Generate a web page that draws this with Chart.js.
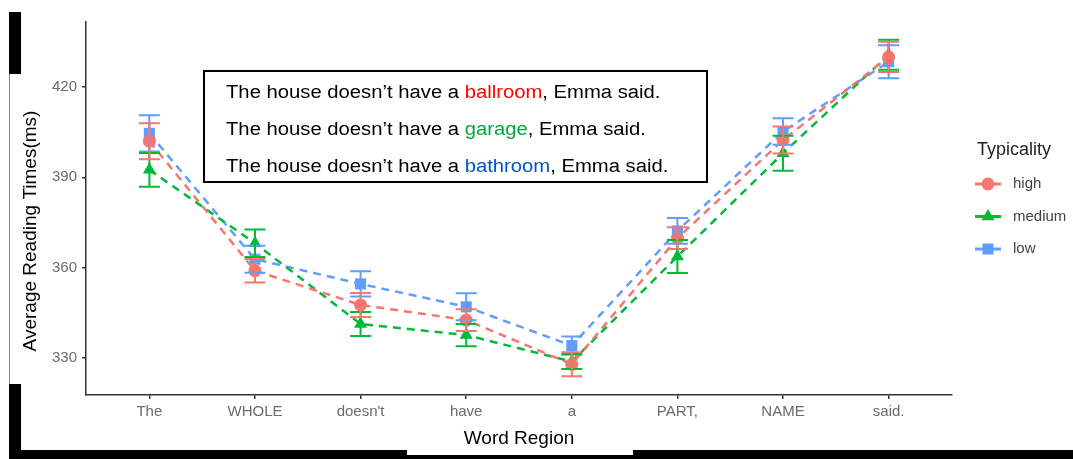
<!DOCTYPE html>
<html>
<head>
<meta charset="utf-8">
<script src="https://cdn.jsdelivr.net/npm/chart.js@4.4.1/dist/chart.umd.min.js"></script>
<style>
  html, body { margin: 0; padding: 0; background: #fff; }
  #wrap { position: relative; width: 1073px; height: 459px; overflow: hidden; background: #fff; }
  #chart { position: absolute; left: 0; top: 0; }
  .blk { position: absolute; background: #000; }
  .thin { position: absolute; background: #888; }
  #sentences {
    position: absolute; left: 203px; top: 70px; width: 505px; height: 113px;
    box-sizing: border-box; border: 2px solid #000; background: #fff;
    font-family: "Liberation Sans", Arial, sans-serif; font-size: 18px; color: #000;
    padding: 2px 0 0 21px; line-height: 37px;
  }
  #sentences div { white-space: nowrap; transform: scaleX(1.125); transform-origin: 0 50%; }
</style>
</head>
<body>
<div id="wrap">
  <canvas id="chart" width="1073" height="459"></canvas>
  <div id="sentences">
    <div>The house doesn’t have a <span style="color:#ff0000">ballroom</span>, Emma said.</div>
    <div>The house doesn’t have a <span style="color:#00a83c">garage</span>, Emma said.</div>
    <div>The house doesn’t have a <span style="color:#0055c6">bathroom</span>, Emma said.</div>
  </div>
  <!-- slide frame edges -->
  <div class="blk" style="left:9px; top:12px; width:12px; height:62px;"></div>
  <div class="thin" style="left:9px; top:74px; width:1px; height:310px;"></div>
  <div class="blk" style="left:9px; top:384px; width:12px; height:75px;"></div>
  <div class="blk" style="left:9px; top:450px; width:398px; height:9px;"></div>
  <div class="blk" style="left:407px; top:455px; width:226px; height:4px;"></div>
  <div class="blk" style="left:633px; top:450px; width:440px; height:9px;"></div>
</div>
<script>
// Word regions along the sentence
const regions = ['The', 'WHOLE', "doesn't", 'have', 'a', 'PART,', 'NAME', 'said.'];

// Mean reading times (ms) per typicality condition
const highMeans   = [402.0, 359.0, 347.6, 342.6, 327.9, 369.8, 402.4, 430.0];
const mediumMeans = [392.5, 368.1, 341.3, 337.6, 328.8, 363.7, 398.0, 430.7];
const lowMeans    = [404.6, 362.8, 354.6, 347.0, 334.1, 372.2, 405.2, 428.4];

// Error bar half-widths (ms)
const highErrors   = [6.0, 3.9, 4.0, 3.6, 4.0, 3.6, 4.5, 5.0];
const mediumErrors = [5.6, 4.6, 4.0, 3.7, 2.5, 5.5, 5.8, 5.0];
const lowErrors    = [6.0, 4.5, 4.2, 4.5, 3.0, 4.3, 4.4, 5.5];

// Y axis tick values
const yTicks = [330, 360, 390, 420];

const seriesNames = ['high', 'medium', 'low'];
const seriesColors = ['#F8766D', '#00BA38', '#619CFF'];
const seriesShapes = ['circle', 'triangle', 'rect'];
const seriesRadius = [6.5, 7.5, 7.8];

const allMeans = [highMeans, mediumMeans, lowMeans];
const allErrors = [highErrors, mediumErrors, lowErrors];

const datasets = allMeans.map((vals, s) => ({
  label: seriesNames[s],
  data: vals.map((v, i) => ({ x: i, y: v })),
  borderColor: seriesColors[s],
  backgroundColor: seriesColors[s],
  borderWidth: 2.5,
  borderDash: [8, 6],
  pointStyle: seriesShapes[s],
  pointRadius: seriesRadius[s],
  pointBorderWidth: 0,
  pointBackgroundColor: seriesColors[s],
  tension: 0,
  fill: false,
  errors: allErrors[s]
}));

const FONT = '"Liberation Sans", Arial, sans-serif';

function drawShape(ctx, shape, x, y, r) {
  ctx.beginPath();
  if (shape === 'circle') {
    ctx.arc(x, y, r, 0, Math.PI * 2);
  } else if (shape === 'triangle') {
    for (let k = 0; k < 3; k++) {
      const a = k * 2 * Math.PI / 3;
      const px = x + Math.sin(a) * r, py = y - Math.cos(a) * r;
      if (k === 0) ctx.moveTo(px, py); else ctx.lineTo(px, py);
    }
    ctx.closePath();
  } else {
    const h = r * Math.SQRT1_2;
    ctx.rect(x - h, y - h, 2 * h, 2 * h);
  }
  ctx.fill();
}

const errorBars = {
  id: 'errorBars',
  afterDatasetsDraw(chart) {
    const { ctx, scales: { x, y } } = chart;
    ctx.save();
    ctx.lineWidth = 2;
    for (let s = chart.data.datasets.length - 1; s >= 0; s--) {
      const ds = chart.data.datasets[s];
      ctx.strokeStyle = ds.borderColor;
      ds.data.forEach((p, i) => {
        const px = x.getPixelForValue(p.x);
        const top = y.getPixelForValue(p.y + ds.errors[i]);
        const bot = y.getPixelForValue(p.y - ds.errors[i]);
        ctx.beginPath();
        ctx.moveTo(px, top); ctx.lineTo(px, bot);
        ctx.moveTo(px - 10.5, top); ctx.lineTo(px + 10.5, top);
        ctx.moveTo(px - 10.5, bot); ctx.lineTo(px + 10.5, bot);
        ctx.stroke();
      });
    }
    ctx.restore();
  }
};

const axisTitlesAndLegend = {
  id: 'axisTitlesAndLegend',
  afterDraw(chart) {
    const { ctx, chartArea } = chart;
    ctx.save();
    // axis titles
    ctx.fillStyle = '#000';
    ctx.font = '19px ' + FONT;
    ctx.textAlign = 'center';
    ctx.textBaseline = 'middle';
    ctx.fillText('Word Region', (chartArea.left + chartArea.right) / 2, 439);
    ctx.save();
    ctx.translate(31, 231);
    ctx.rotate(-Math.PI / 2);
    ctx.fillText('Average Reading Times(ms)', 0, 0);
    ctx.restore();

    // legend
    ctx.textAlign = 'left';
    ctx.fillStyle = '#222';
    ctx.font = '18px ' + FONT;
    ctx.fillText('Typicality', 977, 150);
    const rows = [184, 216.5, 249];
    chart.data.datasets.forEach((ds, s) => {
      const yy = rows[s];
      ctx.strokeStyle = ds.borderColor;
      ctx.fillStyle = ds.borderColor;
      ctx.lineWidth = 3;
      ctx.beginPath();
      ctx.moveTo(975, yy); ctx.lineTo(1001, yy);
      ctx.stroke();
      drawShape(ctx, seriesShapes[s], 988, yy, seriesRadius[s]);
      ctx.fillStyle = '#444';
      ctx.font = '15px ' + FONT;
      ctx.fillText(ds.label, 1013, yy);
    });
    ctx.restore();
  }
};

new Chart(document.getElementById('chart'), {
  type: 'line',
  data: { datasets },
  plugins: [errorBars, axisTitlesAndLegend],
  options: {
    responsive: false,
    animation: false,
    devicePixelRatio: 1,
    layout: { padding: { left: 0, top: 22, right: 121, bottom: 0 } },
    plugins: { legend: { display: false }, tooltip: { enabled: false } },
    scales: {
      x: {
        type: 'linear',
        min: -0.6,
        max: 7.6,
        afterBuildTicks(scale) { scale.ticks = regions.map((_, i) => ({ value: i })); },
        afterFit(scale) { scale.height = 64; },
        ticks: {
          callback: (v) => regions[v],
          color: '#6b6b6b',
          font: { family: FONT, size: 15 },
          padding: 4,
          maxRotation: 0,
          autoSkip: false
        },
        grid: { drawOnChartArea: false, drawTicks: true, tickLength: 4, color: '#333', lineWidth: 1.5 },
        border: { display: true, color: '#333', width: 1.5 }
      },
      y: {
        min: 317.7,
        max: 441.6,
        afterBuildTicks(scale) { scale.ticks = yTicks.map(v => ({ value: v })); },
        afterFit(scale) { scale.width = 86; },
        ticks: {
          color: '#6b6b6b',
          font: { family: FONT, size: 15 },
          padding: 5
        },
        grid: { drawOnChartArea: false, drawTicks: true, tickLength: 4, color: '#333', lineWidth: 1.5 },
        border: { display: true, color: '#333', width: 1.5 }
      }
    }
  }
});
</script>
</body>
</html>
